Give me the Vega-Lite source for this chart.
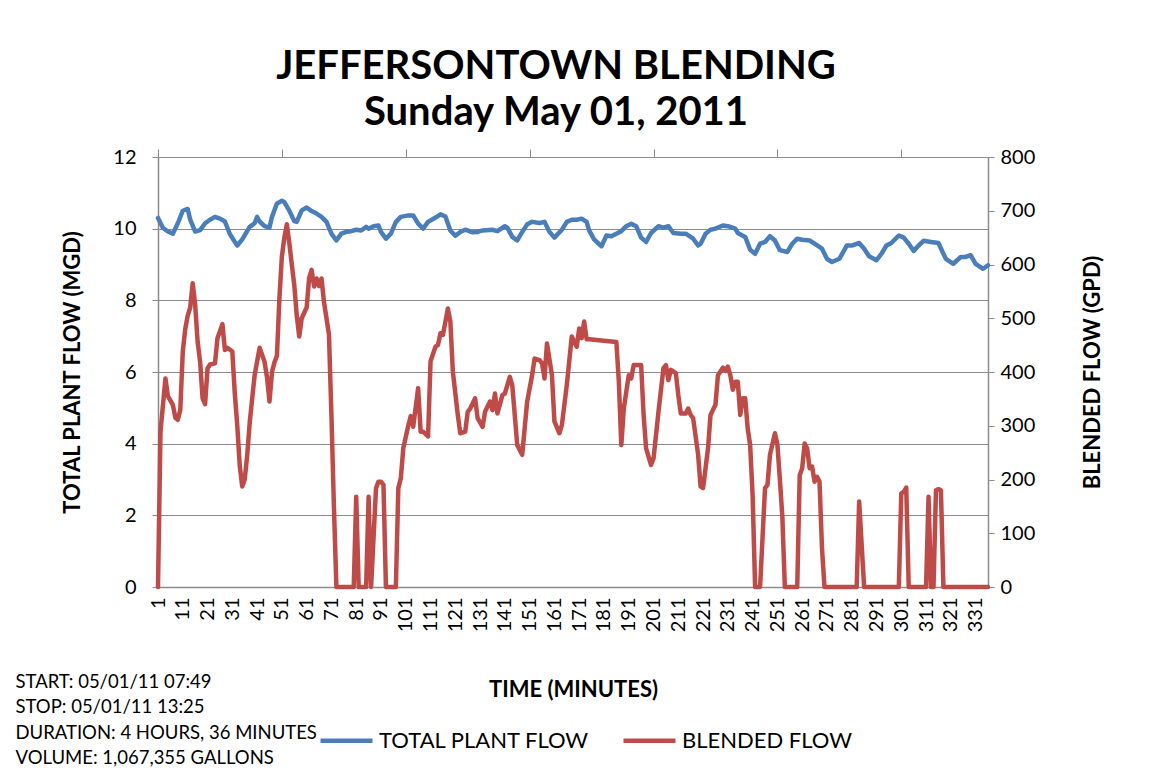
{
  "$schema": "https://vega.github.io/schema/vega-lite/v6.json",
  "width": 830,
  "height": 430,
  "autosize": {"type": "none"},
  "padding": {"left": 158, "top": 157, "right": 168, "bottom": 187},
  "background": "white",
  "title": {
    "text": ["JEFFERSONTOWN BLENDING", "Sunday May 01, 2011"],
    "font": "Lato", "fontSize": 40, "fontWeight": "bold", "color": "black",
    "anchor": "middle", "frame": "group", "offset": 14, "lineHeight": 46, "dx": -17
  },
  "config": {"view": {"stroke": null}, "font": "Lato"},
  "layer": [
    {
      "data": {"values": [
        {"minute":1,"total_mgd":10.30},{"minute":3,"total_mgd":10.02},{"minute":5,"total_mgd":9.92},{"minute":7,"total_mgd":9.86},{"minute":9,"total_mgd":10.15},{"minute":11,"total_mgd":10.50},{"minute":13,"total_mgd":10.55},{"minute":14,"total_mgd":10.25},{"minute":16,"total_mgd":9.92},{"minute":18,"total_mgd":9.96},{"minute":20,"total_mgd":10.15},{"minute":22,"total_mgd":10.25},{"minute":24,"total_mgd":10.33},{"minute":26,"total_mgd":10.28},{"minute":28,"total_mgd":10.20},{"minute":30,"total_mgd":9.85},{"minute":32,"total_mgd":9.63},{"minute":33,"total_mgd":9.53},{"minute":35,"total_mgd":9.70},{"minute":38,"total_mgd":10.05},{"minute":40,"total_mgd":10.15},{"minute":41,"total_mgd":10.33},{"minute":42,"total_mgd":10.20},{"minute":44,"total_mgd":10.07},{"minute":46,"total_mgd":10.03},{"minute":47,"total_mgd":10.33},{"minute":49,"total_mgd":10.70},{"minute":51,"total_mgd":10.78},{"minute":52,"total_mgd":10.74},{"minute":54,"total_mgd":10.50},{"minute":56,"total_mgd":10.21},{"minute":57,"total_mgd":10.19},{"minute":59,"total_mgd":10.51},{"minute":61,"total_mgd":10.59},{"minute":63,"total_mgd":10.49},{"minute":65,"total_mgd":10.42},{"minute":67,"total_mgd":10.33},{"minute":69,"total_mgd":10.19},{"minute":71,"total_mgd":9.86},{"minute":73,"total_mgd":9.67},{"minute":75,"total_mgd":9.86},{"minute":77,"total_mgd":9.91},{"minute":79,"total_mgd":9.93},{"minute":81,"total_mgd":9.97},{"minute":83,"total_mgd":9.95},{"minute":85,"total_mgd":10.05},{"minute":86,"total_mgd":10.00},{"minute":88,"total_mgd":10.07},{"minute":90,"total_mgd":10.09},{"minute":91,"total_mgd":9.91},{"minute":93,"total_mgd":9.72},{"minute":95,"total_mgd":9.86},{"minute":97,"total_mgd":10.19},{"minute":99,"total_mgd":10.33},{"minute":102,"total_mgd":10.37},{"minute":104,"total_mgd":10.37},{"minute":106,"total_mgd":10.14},{"minute":108,"total_mgd":10.00},{"minute":110,"total_mgd":10.19},{"minute":112,"total_mgd":10.27},{"minute":113,"total_mgd":10.31},{"minute":115,"total_mgd":10.40},{"minute":117,"total_mgd":10.34},{"minute":119,"total_mgd":9.95},{"minute":121,"total_mgd":9.80},{"minute":123,"total_mgd":9.91},{"minute":125,"total_mgd":9.97},{"minute":128,"total_mgd":9.90},{"minute":130,"total_mgd":9.91},{"minute":132,"total_mgd":9.95},{"minute":136,"total_mgd":9.97},{"minute":138,"total_mgd":9.93},{"minute":141,"total_mgd":10.07},{"minute":142,"total_mgd":10.03},{"minute":144,"total_mgd":9.77},{"minute":146,"total_mgd":9.67},{"minute":148,"total_mgd":9.91},{"minute":150,"total_mgd":10.12},{"minute":152,"total_mgd":10.19},{"minute":155,"total_mgd":10.16},{"minute":157,"total_mgd":10.19},{"minute":159,"total_mgd":9.91},{"minute":161,"total_mgd":9.75},{"minute":164,"total_mgd":9.97},{"minute":166,"total_mgd":10.19},{"minute":168,"total_mgd":10.25},{"minute":170,"total_mgd":10.25},{"minute":172,"total_mgd":10.28},{"minute":174,"total_mgd":10.19},{"minute":175,"total_mgd":9.95},{"minute":177,"total_mgd":9.70},{"minute":180,"total_mgd":9.51},{"minute":182,"total_mgd":9.81},{"minute":184,"total_mgd":9.79},{"minute":186,"total_mgd":9.86},{"minute":188,"total_mgd":9.93},{"minute":190,"total_mgd":10.07},{"minute":192,"total_mgd":10.14},{"minute":194,"total_mgd":10.07},{"minute":196,"total_mgd":9.75},{"minute":198,"total_mgd":9.63},{"minute":200,"total_mgd":9.88},{"minute":203,"total_mgd":10.07},{"minute":205,"total_mgd":10.03},{"minute":207,"total_mgd":10.07},{"minute":209,"total_mgd":9.88},{"minute":212,"total_mgd":9.86},{"minute":214,"total_mgd":9.86},{"minute":217,"total_mgd":9.72},{"minute":219,"total_mgd":9.53},{"minute":220,"total_mgd":9.58},{"minute":222,"total_mgd":9.86},{"minute":224,"total_mgd":9.97},{"minute":226,"total_mgd":10.00},{"minute":229,"total_mgd":10.09},{"minute":231,"total_mgd":10.07},{"minute":234,"total_mgd":10.00},{"minute":235,"total_mgd":9.88},{"minute":238,"total_mgd":9.77},{"minute":240,"total_mgd":9.41},{"minute":242,"total_mgd":9.30},{"minute":244,"total_mgd":9.58},{"minute":246,"total_mgd":9.63},{"minute":248,"total_mgd":9.79},{"minute":250,"total_mgd":9.67},{"minute":252,"total_mgd":9.40},{"minute":255,"total_mgd":9.35},{"minute":257,"total_mgd":9.58},{"minute":259,"total_mgd":9.72},{"minute":261,"total_mgd":9.69},{"minute":264,"total_mgd":9.67},{"minute":266,"total_mgd":9.58},{"minute":269,"total_mgd":9.44},{"minute":271,"total_mgd":9.16},{"minute":273,"total_mgd":9.07},{"minute":276,"total_mgd":9.16},{"minute":278,"total_mgd":9.40},{"minute":279,"total_mgd":9.53},{"minute":281,"total_mgd":9.53},{"minute":284,"total_mgd":9.60},{"minute":286,"total_mgd":9.44},{"minute":288,"total_mgd":9.23},{"minute":291,"total_mgd":9.12},{"minute":293,"total_mgd":9.30},{"minute":295,"total_mgd":9.53},{"minute":297,"total_mgd":9.60},{"minute":300,"total_mgd":9.81},{"minute":302,"total_mgd":9.75},{"minute":304,"total_mgd":9.58},{"minute":306,"total_mgd":9.38},{"minute":308,"total_mgd":9.53},{"minute":310,"total_mgd":9.66},{"minute":313,"total_mgd":9.63},{"minute":316,"total_mgd":9.60},{"minute":318,"total_mgd":9.30},{"minute":319,"total_mgd":9.16},{"minute":322,"total_mgd":9.02},{"minute":325,"total_mgd":9.21},{"minute":327,"total_mgd":9.21},{"minute":329,"total_mgd":9.26},{"minute":331,"total_mgd":9.02},{"minute":334,"total_mgd":8.88},{"minute":336,"total_mgd":8.98}
      ]},
      "mark": {"type": "line", "strokeWidth": 4.5, "strokeJoin": "round", "strokeCap": "round"},
      "encoding": {
        "x": {
          "field": "minute", "type": "quantitative",
          "scale": {"domain": [1, 336], "nice": false, "zero": false},
          "axis": {
            "values": [1,11,21,31,41,51,61,71,81,91,101,111,121,131,141,151,161,171,181,191,201,211,221,231,241,251,261,271,281,291,301,311,321,331],
            "ticks": false, "grid": false, "labelAngle": 270, "labelFontSize": 20, "labelPadding": 10,
            "labelColor": "black", "labelOverlap": false, "labelFlush": false,
            "domainColor": "#8c8c8c", "domainWidth": 1.5,
            "title": "TIME (MINUTES)", "titleFontSize": 22, "titleFontWeight": "bold", "titleColor": "black", "titlePadding": 48
          }
        },
        "y": {
          "field": "total_mgd", "type": "quantitative",
          "scale": {"domain": [0, 12], "nice": false},
          "axis": {
            "orient": "left", "values": [0,2,4,6,8,10,12], "grid": true, "gridColor": "#8c8c8c", "gridWidth": 1.2,
            "tickColor": "#8c8c8c", "tickSize": 6, "domainColor": "#8c8c8c", "domainWidth": 1.5,
            "labelFontSize": 20, "labelColor": "black", "labelPadding": 16,
            "title": "TOTAL PLANT FLOW (MGD)", "titleFontSize": 22, "titleFontWeight": "bold", "titleColor": "black", "titlePadding": 28
          }
        },
        "color": {
          "datum": "TOTAL PLANT FLOW", "type": "nominal",
          "scale": {"domain": ["TOTAL PLANT FLOW", "BLENDED FLOW"], "range": ["#4A7EBB", "#BE4B48"]},
          "legend": {
            "orient": "none", "legendX": 160, "legendY": 555, "direction": "horizontal", "title": null,
            "symbolType": "stroke", "symbolSize": 2704, "symbolStrokeWidth": 4.5,
            "labelFontSize": 22, "labelColor": "black", "labelOffset": 4, "labelLimit": 400, "columnPadding": 24
          }
        }
      }
    },
    {
      "data": {"values": [
        {"minute":1,"blended_gpd":0},{"minute":2,"blended_gpd":289},{"minute":4,"blended_gpd":388},{"minute":5,"blended_gpd":355},{"minute":7,"blended_gpd":339},{"minute":8,"blended_gpd":315},{"minute":9,"blended_gpd":311},{"minute":10,"blended_gpd":330},{"minute":11,"blended_gpd":438},{"minute":12,"blended_gpd":480},{"minute":13,"blended_gpd":505},{"minute":14,"blended_gpd":520},{"minute":15,"blended_gpd":565},{"minute":16,"blended_gpd":525},{"minute":17,"blended_gpd":456},{"minute":18,"blended_gpd":419},{"minute":19,"blended_gpd":351},{"minute":20,"blended_gpd":340},{"minute":21,"blended_gpd":407},{"minute":22,"blended_gpd":414},{"minute":24,"blended_gpd":416},{"minute":25,"blended_gpd":463},{"minute":27,"blended_gpd":489},{"minute":28,"blended_gpd":441},{"minute":29,"blended_gpd":445},{"minute":31,"blended_gpd":438},{"minute":32,"blended_gpd":360},{"minute":33,"blended_gpd":300},{"minute":34,"blended_gpd":225},{"minute":35,"blended_gpd":187},{"minute":36,"blended_gpd":200},{"minute":37,"blended_gpd":245},{"minute":38,"blended_gpd":305},{"minute":39,"blended_gpd":350},{"minute":40,"blended_gpd":394},{"minute":42,"blended_gpd":445},{"minute":44,"blended_gpd":419},{"minute":45,"blended_gpd":390},{"minute":46,"blended_gpd":345},{"minute":47,"blended_gpd":400},{"minute":48,"blended_gpd":418},{"minute":49,"blended_gpd":430},{"minute":50,"blended_gpd":537},{"minute":51,"blended_gpd":615},{"minute":52,"blended_gpd":650},{"minute":53,"blended_gpd":675},{"minute":54,"blended_gpd":640},{"minute":55,"blended_gpd":600},{"minute":56,"blended_gpd":562},{"minute":57,"blended_gpd":505},{"minute":58,"blended_gpd":466},{"minute":59,"blended_gpd":500},{"minute":61,"blended_gpd":520},{"minute":62,"blended_gpd":575},{"minute":63,"blended_gpd":590},{"minute":64,"blended_gpd":559},{"minute":65,"blended_gpd":574},{"minute":66,"blended_gpd":560},{"minute":67,"blended_gpd":574},{"minute":68,"blended_gpd":530},{"minute":70,"blended_gpd":470},{"minute":71,"blended_gpd":320},{"minute":72,"blended_gpd":150},{"minute":73,"blended_gpd":0},{"minute":80,"blended_gpd":0},{"minute":81,"blended_gpd":168},{"minute":82,"blended_gpd":0},{"minute":85,"blended_gpd":0},{"minute":86,"blended_gpd":168},{"minute":87,"blended_gpd":0},{"minute":89,"blended_gpd":184},{"minute":90,"blended_gpd":196},{"minute":91,"blended_gpd":196},{"minute":92,"blended_gpd":190},{"minute":93,"blended_gpd":0},{"minute":97,"blended_gpd":0},{"minute":98,"blended_gpd":184},{"minute":99,"blended_gpd":202},{"minute":100,"blended_gpd":258},{"minute":102,"blended_gpd":300},{"minute":103,"blended_gpd":318},{"minute":104,"blended_gpd":298},{"minute":106,"blended_gpd":370},{"minute":107,"blended_gpd":289},{"minute":108,"blended_gpd":289},{"minute":110,"blended_gpd":280},{"minute":111,"blended_gpd":420},{"minute":113,"blended_gpd":447},{"minute":114,"blended_gpd":450},{"minute":115,"blended_gpd":472},{"minute":116,"blended_gpd":469},{"minute":118,"blended_gpd":518},{"minute":119,"blended_gpd":494},{"minute":120,"blended_gpd":401},{"minute":122,"blended_gpd":320},{"minute":123,"blended_gpd":286},{"minute":125,"blended_gpd":289},{"minute":126,"blended_gpd":326},{"minute":127,"blended_gpd":332},{"minute":129,"blended_gpd":351},{"minute":130,"blended_gpd":314},{"minute":132,"blended_gpd":298},{"minute":133,"blended_gpd":326},{"minute":135,"blended_gpd":345},{"minute":136,"blended_gpd":329},{"minute":137,"blended_gpd":360},{"minute":138,"blended_gpd":323},{"minute":140,"blended_gpd":357},{"minute":141,"blended_gpd":360},{"minute":143,"blended_gpd":391},{"minute":144,"blended_gpd":375},{"minute":146,"blended_gpd":264},{"minute":148,"blended_gpd":246},{"minute":150,"blended_gpd":345},{"minute":152,"blended_gpd":394},{"minute":153,"blended_gpd":425},{"minute":155,"blended_gpd":422},{"minute":156,"blended_gpd":416},{"minute":157,"blended_gpd":388},{"minute":158,"blended_gpd":453},{"minute":160,"blended_gpd":394},{"minute":161,"blended_gpd":308},{"minute":163,"blended_gpd":286},{"minute":164,"blended_gpd":301},{"minute":166,"blended_gpd":376},{"minute":168,"blended_gpd":466},{"minute":170,"blended_gpd":447},{"minute":171,"blended_gpd":481},{"minute":172,"blended_gpd":463},{"minute":173,"blended_gpd":494},{"minute":174,"blended_gpd":461},{"minute":175,"blended_gpd":461},{"minute":186,"blended_gpd":456},{"minute":187,"blended_gpd":382},{"minute":188,"blended_gpd":264},{"minute":189,"blended_gpd":332},{"minute":191,"blended_gpd":394},{"minute":192,"blended_gpd":388},{"minute":193,"blended_gpd":413},{"minute":196,"blended_gpd":413},{"minute":197,"blended_gpd":320},{"minute":198,"blended_gpd":258},{"minute":200,"blended_gpd":227},{"minute":201,"blended_gpd":239},{"minute":203,"blended_gpd":326},{"minute":205,"blended_gpd":407},{"minute":206,"blended_gpd":413},{"minute":207,"blended_gpd":385},{"minute":208,"blended_gpd":404},{"minute":210,"blended_gpd":398},{"minute":211,"blended_gpd":357},{"minute":212,"blended_gpd":323},{"minute":214,"blended_gpd":323},{"minute":215,"blended_gpd":332},{"minute":216,"blended_gpd":320},{"minute":217,"blended_gpd":314},{"minute":219,"blended_gpd":246},{"minute":220,"blended_gpd":187},{"minute":221,"blended_gpd":184},{"minute":223,"blended_gpd":258},{"minute":224,"blended_gpd":320},{"minute":226,"blended_gpd":339},{"minute":227,"blended_gpd":394},{"minute":229,"blended_gpd":408},{"minute":230,"blended_gpd":402},{"minute":231,"blended_gpd":410},{"minute":232,"blended_gpd":394},{"minute":233,"blended_gpd":367},{"minute":234,"blended_gpd":382},{"minute":235,"blended_gpd":382},{"minute":236,"blended_gpd":320},{"minute":237,"blended_gpd":351},{"minute":238,"blended_gpd":351},{"minute":239,"blended_gpd":295},{"minute":240,"blended_gpd":264},{"minute":241,"blended_gpd":170},{"minute":242,"blended_gpd":0},{"minute":244,"blended_gpd":0},{"minute":246,"blended_gpd":184},{"minute":247,"blended_gpd":190},{"minute":248,"blended_gpd":246},{"minute":250,"blended_gpd":286},{"minute":251,"blended_gpd":265},{"minute":252,"blended_gpd":200},{"minute":253,"blended_gpd":130},{"minute":254,"blended_gpd":0},{"minute":259,"blended_gpd":0},{"minute":260,"blended_gpd":208},{"minute":261,"blended_gpd":221},{"minute":262,"blended_gpd":267},{"minute":263,"blended_gpd":258},{"minute":264,"blended_gpd":221},{"minute":265,"blended_gpd":224},{"minute":266,"blended_gpd":196},{"minute":267,"blended_gpd":205},{"minute":268,"blended_gpd":196},{"minute":269,"blended_gpd":72},{"minute":270,"blended_gpd":0},{"minute":283,"blended_gpd":0},{"minute":284,"blended_gpd":159},{"minute":286,"blended_gpd":0},{"minute":300,"blended_gpd":0},{"minute":301,"blended_gpd":174},{"minute":302,"blended_gpd":177},{"minute":303,"blended_gpd":185},{"minute":304,"blended_gpd":0},{"minute":311,"blended_gpd":0},{"minute":312,"blended_gpd":168},{"minute":313,"blended_gpd":0},{"minute":314,"blended_gpd":0},{"minute":315,"blended_gpd":180},{"minute":316,"blended_gpd":182},{"minute":317,"blended_gpd":180},{"minute":318,"blended_gpd":0},{"minute":336,"blended_gpd":0}
      ]},
      "mark": {"type": "line", "strokeWidth": 4.5, "strokeJoin": "round", "strokeCap": "round"},
      "encoding": {
        "x": {
          "field": "minute", "type": "quantitative",
          "scale": {"domain": [1, 336], "nice": false, "zero": false},
          "axis": {
            "values": [1,51,101,151,201,251,301], "labels": false, "domain": false, "grid": false,
            "ticks": true, "tickSize": 8, "tickColor": "#8c8c8c",
            "title": ["START: 05/01/11 07:49", "STOP: 05/01/11 13:25", "DURATION: 4 HOURS, 36 MINUTES", "VOLUME: 1,067,355 GALLONS"],
            "titleX": -143, "titleY": 515, "titleAlign": "left", "titleBaseline": "top", "titleAngle": 0,
            "titleFontSize": 18.5, "titleFontWeight": "normal", "titleLineHeight": 25.5, "titleColor": "black", "titleLimit": 500
          }
        },
        "y": {
          "field": "blended_gpd", "type": "quantitative",
          "scale": {"domain": [0, 800], "nice": false},
          "axis": {
            "orient": "right", "values": [0,100,200,300,400,500,600,700,800], "grid": false,
            "tickColor": "#8c8c8c", "tickSize": 6, "domainColor": "#8c8c8c", "domainWidth": 1.5,
            "labelFontSize": 20, "labelColor": "black", "labelPadding": 6,
            "title": "BLENDED FLOW (GPD)", "titleAngle": 270, "titleBaseline": "top", "titleFontSize": 22, "titleFontWeight": "bold", "titleColor": "black", "titlePadding": 48
          }
        },
        "color": {
          "datum": "BLENDED FLOW", "type": "nominal",
          "scale": {"domain": ["TOTAL PLANT FLOW", "BLENDED FLOW"], "range": ["#4A7EBB", "#BE4B48"]}
        }
      }
    }
  ],
  "resolve": {"scale": {"y": "independent"}, "axis": {"x": "independent"}}
}
